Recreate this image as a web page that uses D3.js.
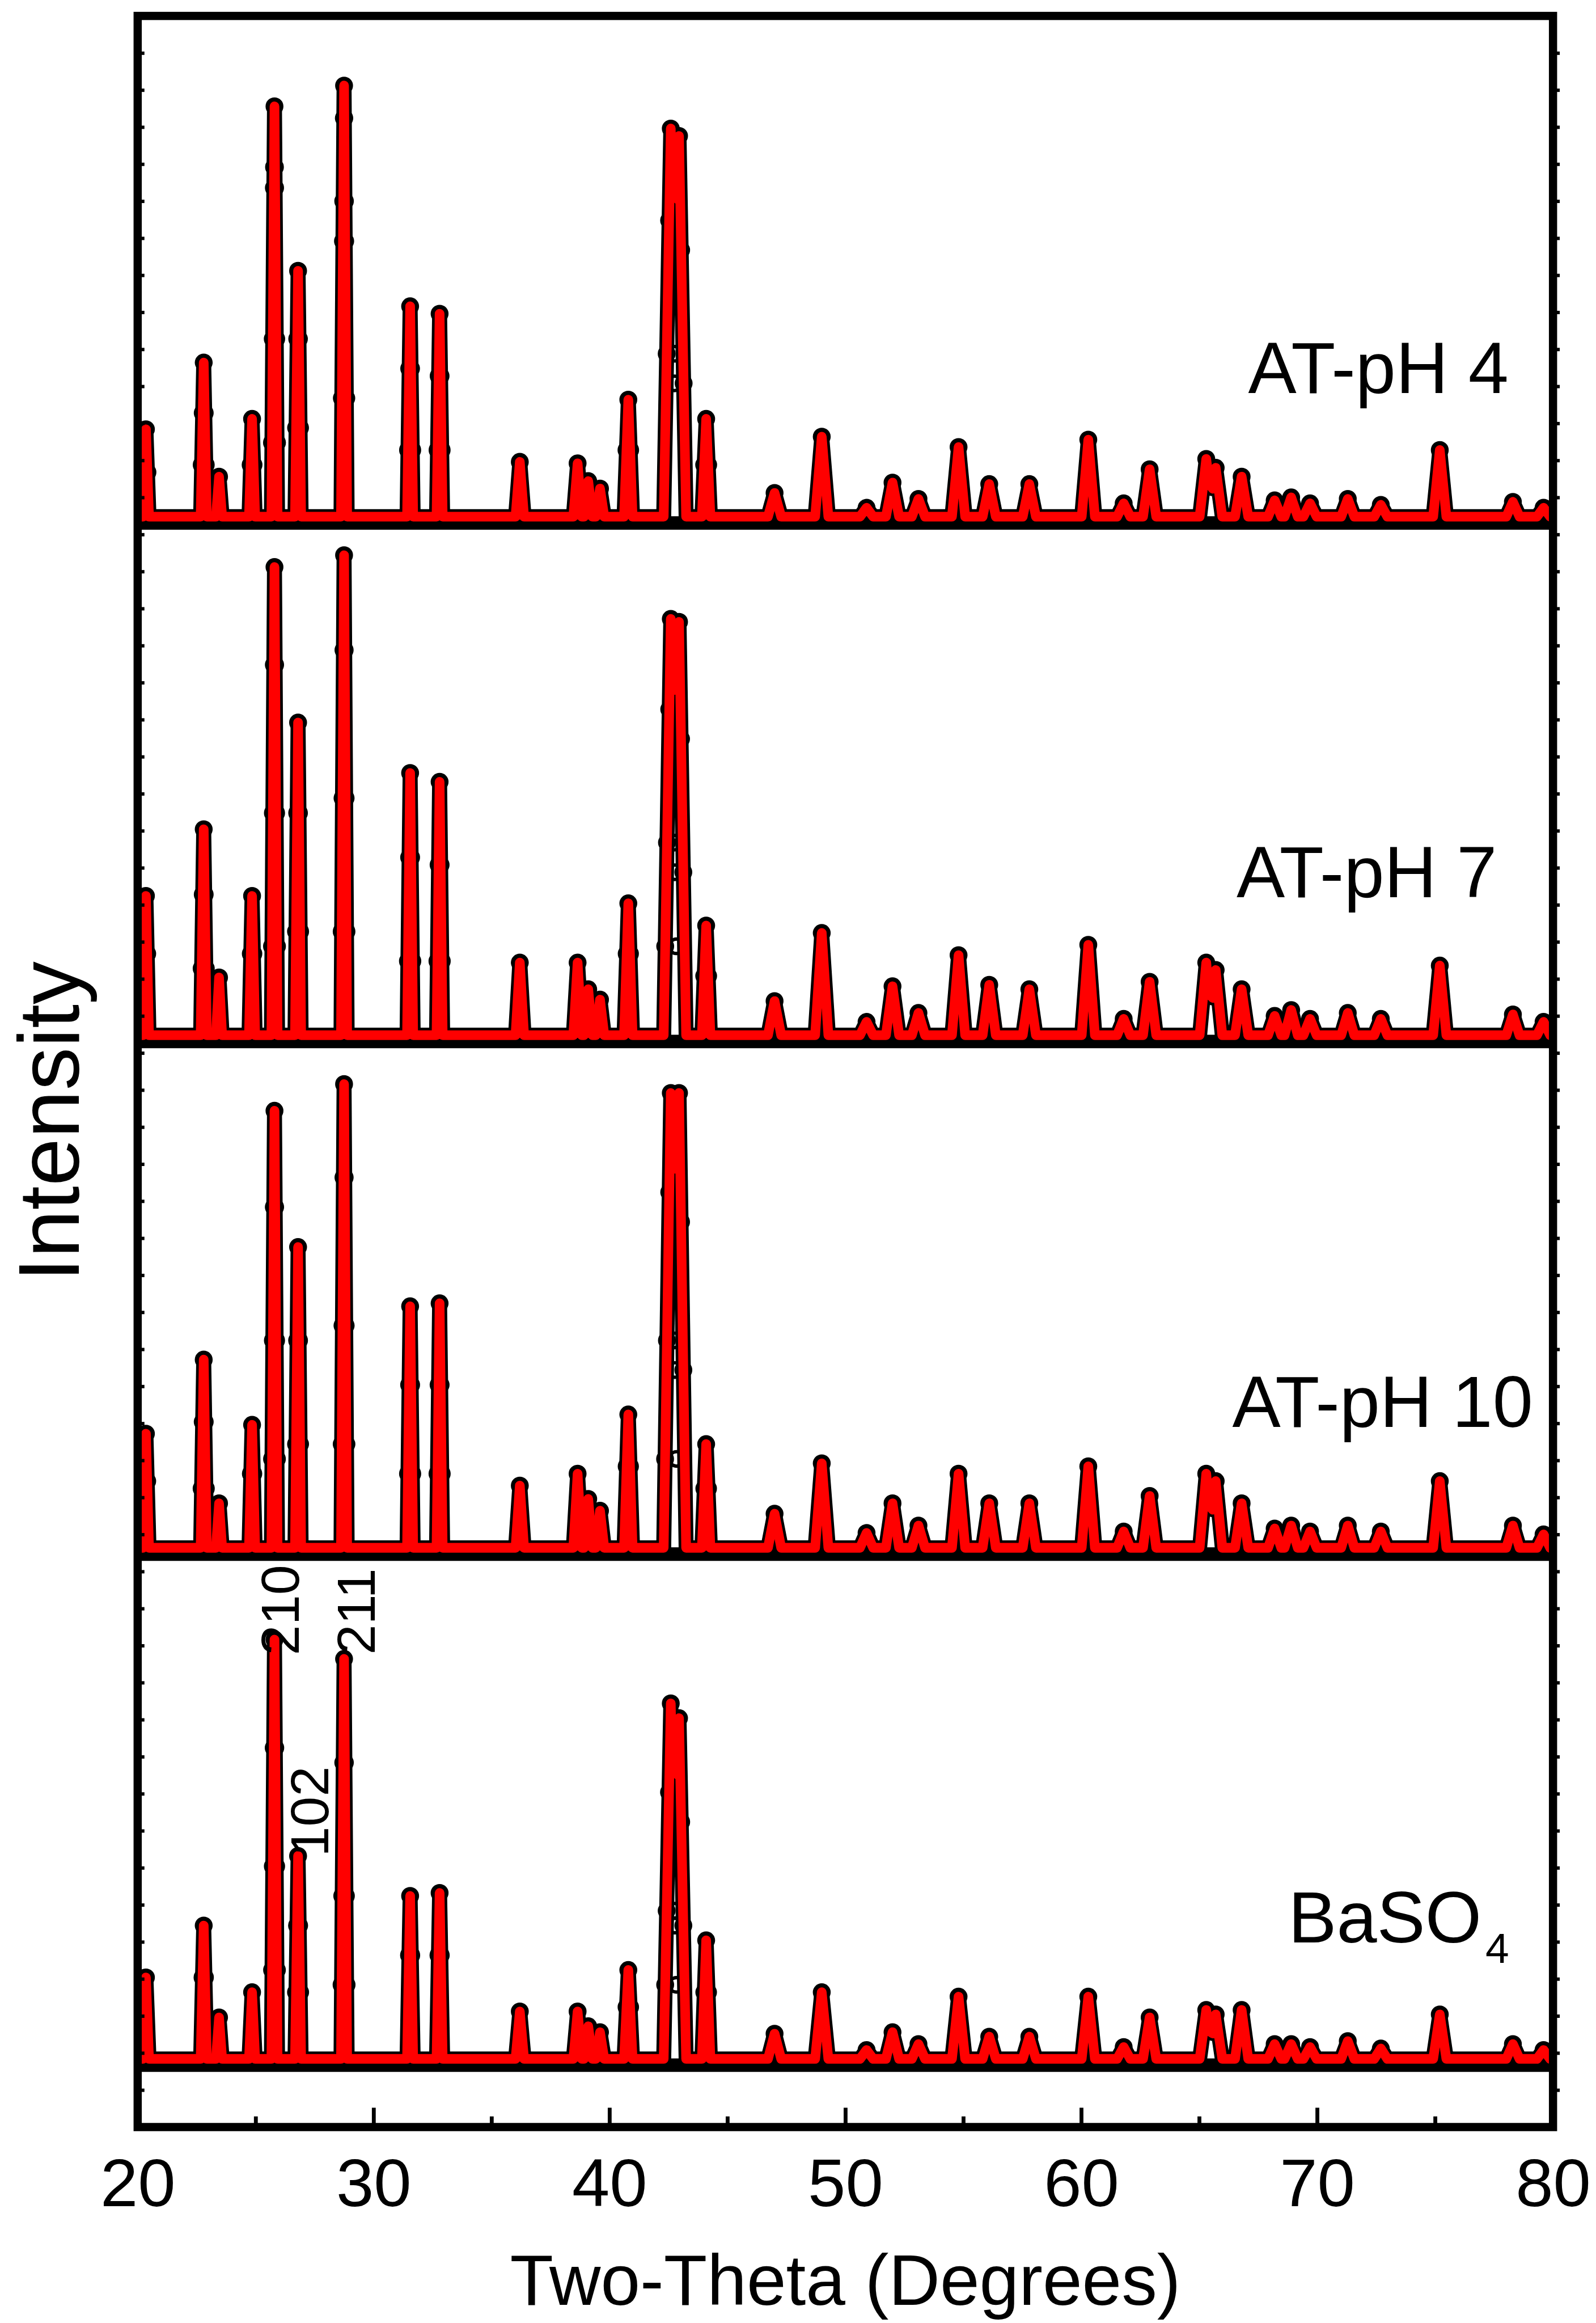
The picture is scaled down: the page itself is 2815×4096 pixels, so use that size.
<!DOCTYPE html>
<html>
<head>
<meta charset="utf-8">
<script src="https://cdn.jsdelivr.net/npm/d3@7"></script>
<style>
html,body{margin:0;padding:0;background:#ffffff;}
svg{display:block;}
</style>
</head>
<body>
<script>
// ---------------- DATA ----------------
const xTickValues = [20, 30, 40, 50, 60, 70, 80];
const xMinorTickValues = [25, 35, 45, 55, 65, 75];
const xTitle = "Two-Theta (Degrees)";
const yTitle = "Intensity";
const sampleNames = ["AT-pH 4", "AT-pH 7", "AT-pH 10", "BaSO"];
// baseline level of each stacked pattern (arbitrary intensity units)
const baselineLevels = [1087, 737, 391, 46];
// reflection positions (2θ, degrees)
const peakPositions = [20.35, 22.8, 23.45, 24.85, 25.8, 26.8, 28.75, 31.55, 32.8,
  36.2, 38.65, 39.1, 39.6, 40.8, 42.6, 42.95, 44.1,
  47.0, 49.0, 50.9, 52.0, 53.1, 54.8, 56.1, 57.8, 60.3, 61.8, 62.9, 65.3, 65.7,
  66.8, 68.2, 68.9, 69.7, 71.3, 72.7, 75.2, 78.3, 79.6];
// half width of each reflection at its foot (degrees)
const peakWidths = [0.13, 0.13, 0.13, 0.13, 0.13, 0.13, 0.13, 0.13, 0.13,
  0.18, 0.18, 0.18, 0.18, 0.18, 0.3, 0.3, 0.18,
  0.28, 0.28, 0.28, 0.28, 0.28, 0.28, 0.28, 0.28, 0.28, 0.28, 0.28, 0.28, 0.28,
  0.28, 0.28, 0.28, 0.28, 0.28, 0.28, 0.28, 0.28, 0.28];
// peak heights above baseline, per sample
const heightsPH4 = [59, 104, 27, 66, 277, 166, 291, 142, 137, 37, 36, 24, 19, 79, 262, 257, 66,
  16, 54, 6, 23, 12, 47, 22, 22, 52, 9, 32, 39, 33, 27, 11, 13, 9, 12, 8, 45, 10, 6];
const heightsPH7 = [94, 139, 39, 94, 316, 211, 324, 177, 171, 49, 49, 31, 24, 89, 281, 279, 74,
  23, 69, 9, 33, 15, 54, 34, 31, 61, 11, 36, 49, 44, 31, 13, 17, 11, 15, 11, 47, 14, 9];
const heightsPH10 = [77, 127, 30, 83, 295, 203, 313, 163, 165, 42, 50, 33, 25, 90, 307, 307, 70,
  23, 57, 10, 30, 15, 50, 30, 30, 55, 11, 35, 50, 45, 30, 13, 15, 11, 15, 11, 45, 15, 9];
const heightsBaSO4 = [55, 90, 28, 45, 283, 137, 270, 110, 112, 32, 32, 22, 18, 60, 240, 230, 80,
  17, 45, 6, 18, 10, 42, 15, 15, 42, 8, 28, 33, 30, 33, 10, 10, 8, 12, 7, 30, 10, 6];
// observed points on the flanks of the strong reflections: [2θ of reflection, height]
const flanksPH4 = [[20.35, 30], [22.8, 70], [22.8, 35], [24.85, 35], [25.8, 236], [25.8, 222], [25.8, 120], [25.8, 50],
  [26.8, 120], [26.8, 60], [28.75, 269], [28.75, 213], [28.75, 186], [28.75, 80], [31.55, 100], [31.55, 45],
  [32.8, 95], [32.8, 45], [40.8, 45], [42.6, 200], [42.6, 110], [42.95, 180], [42.95, 90], [44.1, 35]];
const flanksPH7 = [[20.35, 55], [22.8, 95], [22.8, 45], [24.85, 55], [25.8, 250], [25.8, 150], [25.8, 60],
  [26.8, 150], [26.8, 70], [28.75, 260], [28.75, 160], [28.75, 70], [31.55, 120], [31.55, 50],
  [32.8, 115], [32.8, 50], [40.8, 55], [42.6, 220], [42.6, 130], [42.6, 60], [42.95, 200], [42.95, 110], [44.1, 40]];
const flanksPH10 = [[20.35, 45], [22.8, 85], [22.8, 40], [24.85, 50], [25.8, 230], [25.8, 140], [25.8, 60],
  [26.8, 140], [26.8, 70], [28.75, 250], [28.75, 150], [28.75, 70], [31.55, 110], [31.55, 50],
  [32.8, 110], [32.8, 50], [40.8, 55], [42.6, 240], [42.6, 140], [42.6, 60], [42.95, 220], [42.95, 120], [44.1, 40]];
const flanksBaSO4 = [[22.8, 55], [25.8, 210], [25.8, 130], [25.8, 60], [26.8, 90], [26.8, 45],
  [28.75, 200], [28.75, 110], [28.75, 50], [31.55, 70], [32.8, 70], [40.8, 35],
  [42.6, 180], [42.6, 100], [42.6, 50], [42.95, 160], [42.95, 90], [44.1, 45]];
// Miller index annotations on the BaSO4 pattern
const millerLabels = ["210", "211", "102"];
const millerPositions = [25.8, 28.75, 26.8];

// ---------------- LAYOUT ----------------
const K = 2815 / 3304;          // scale from reference pixels to window pixels
const FONT = "'Liberation Sans', Arial, Helvetica, sans-serif";
const plot = {left: 285, right: 3215, top: 33, bottom: 4402};

const svg = d3.select("body").append("svg")
  .attr("width", 2815).attr("height", 4096);
svg.append("rect").attr("width", 2815).attr("height", 4096).attr("fill", "#fff");
const g = svg.append("g").attr("transform", `scale(${K})`);

const x = d3.scaleLinear().domain([20, 80]).range([plot.left, plot.right]);
const y = d3.scaleLinear().domain([0, 1425]).range([plot.bottom, plot.top]);

const defs = g.append("defs");
defs.append("clipPath").attr("id", "plotClip").append("rect")
  .attr("x", plot.left).attr("y", plot.top)
  .attr("width", plot.right - plot.left).attr("height", plot.bottom - plot.top);

const patterns = [
  {name: sampleNames[0], base: baselineLevels[0], heights: heightsPH4, flanks: flanksPH4},
  {name: sampleNames[1], base: baselineLevels[1], heights: heightsPH7, flanks: flanksPH7},
  {name: sampleNames[2], base: baselineLevels[2], heights: heightsPH10, flanks: flanksPH10},
  {name: sampleNames[3], base: baselineLevels[3], heights: heightsBaSO4, flanks: flanksBaSO4}
];

// piecewise-linear profile through the reflection table
function profile(heights, base) {
  const set = new Set([20, 80]);
  peakPositions.forEach((p, i) => {
    const w = peakWidths[i];
    set.add(+(p - w).toFixed(4)); set.add(p); set.add(+(p + w).toFixed(4));
  });
  const xs = [...set].filter(v => v >= 20 && v <= 80).sort((a, b) => a - b);
  return xs.map(t => [t, base + d3.sum(peakPositions, (p, i) =>
    heights[i] * Math.max(0, 1 - Math.abs(t - p) / peakWidths[i]))]);
}

const line = d3.line().x(d => x(d[0])).y(d => y(d[1]));
const plotG = g.append("g").attr("clip-path", "url(#plotClip)");

patterns.forEach((pat, k) => {
  const pts = profile(pat.heights, pat.base);
  // dense observed data along the baseline (black band under the fit)
  plotG.append("path").datum([[20, pat.base], [80, pat.base]])
    .attr("d", line).attr("transform", "translate(0,13)")
    .attr("fill", "none").attr("stroke", "#000").attr("stroke-width", 28);
  // outline of observed data along the whole pattern
  plotG.append("path").datum(pts)
    .attr("d", line)
    .attr("fill", "none").attr("stroke", "#000").attr("stroke-width", 31)
    .attr("stroke-linejoin", "round");

  // observed points: peak tops and flank points
  const obs = peakPositions.map((p, i) => [p, pat.base + pat.heights[i]]);
  pat.flanks.forEach(([p, h]) => {
    const i = peakPositions.indexOf(p);
    const dx = peakWidths[i] * (1 - h / pat.heights[i]);
    obs.push([p - dx, pat.base + h]);
    obs.push([p + dx, pat.base + h]);
  });
  plotG.append("g").selectAll("circle").data(obs).join("circle")
    .attr("cx", d => x(d[0])).attr("cy", d => y(d[1]))
    .attr("r", 15).attr("fill", "none")
    .attr("stroke", "#000").attr("stroke-width", 7);

  // fitted line
  plotG.append("path").datum(pts)
    .attr("d", line)
    .attr("fill", "none").attr("stroke", "#ff0000").attr("stroke-width", 20)
    .attr("stroke-linejoin", "round").attr("stroke-linecap", "round");
});

// ---------------- AXES ----------------
const xAxis = d3.axisBottom(x).tickValues(xTickValues)
  .tickSizeInner(-40).tickSizeOuter(0).tickPadding(64).tickFormat(d3.format("d"));
const xAxisG = g.append("g").attr("transform", `translate(0,${plot.bottom})`).call(xAxis);
xAxisG.select(".domain").remove();
xAxisG.selectAll(".tick line").attr("stroke", "#000").attr("stroke-width", 8);
xAxisG.selectAll(".tick text").attr("font-family", FONT).attr("font-size", 140).attr("fill", "#000");

const xMinor = d3.axisBottom(x).tickValues(xMinorTickValues)
  .tickSizeInner(-22).tickSizeOuter(0).tickFormat(() => "");
const xMinorG = g.append("g").attr("transform", `translate(0,${plot.bottom})`).call(xMinor);
xMinorG.select(".domain").remove();
xMinorG.selectAll(".tick line").attr("stroke", "#000").attr("stroke-width", 8);

const yTickValues = d3.range(25, 1425, 25);
const yLeft = d3.axisLeft(y).tickValues(yTickValues).tickSizeInner(-14).tickSizeOuter(0).tickFormat(() => "");
const yLeftG = g.append("g").attr("transform", `translate(${plot.left},0)`).call(yLeft);
yLeftG.select(".domain").remove();
yLeftG.selectAll(".tick line").attr("stroke", "#000").attr("stroke-width", 7);

const yRight = d3.axisRight(y).tickValues(yTickValues).tickSizeInner(14).tickSizeOuter(0).tickFormat(() => "");
const yRightG = g.append("g").attr("transform", `translate(${plot.right},0)`).call(yRight);
yRightG.select(".domain").remove();
yRightG.selectAll(".tick line").attr("stroke", "#000").attr("stroke-width", 7);

// frame
g.append("rect")
  .attr("x", plot.left).attr("y", plot.top)
  .attr("width", plot.right - plot.left).attr("height", plot.bottom - plot.top)
  .attr("fill", "none").attr("stroke", "#000").attr("stroke-width", 17);

// ---------------- TEXT ----------------
g.append("text").attr("x", (plot.left + plot.right) / 2).attr("y", 4770)
  .attr("text-anchor", "middle").attr("font-family", FONT).attr("font-size", 147)
  .attr("fill", "#000").text(xTitle);

g.append("text").attr("transform", "translate(163,2321) rotate(-90)")
  .attr("text-anchor", "middle").attr("font-family", FONT).attr("font-size", 178)
  .attr("fill", "#000").text(yTitle);

const labelSpots = [[2584, 813], [2560, 1857], [2551, 2953], [2667, 4020]];
patterns.forEach((pat, k) => {
  const t = g.append("text").attr("x", labelSpots[k][0]).attr("y", labelSpots[k][1])
    .attr("font-family", FONT).attr("font-size", 150).attr("fill", "#000").text(pat.name);
  if (k === 3) {
    t.append("tspan").attr("dx", 8).attr("dy", 42).attr("font-size", 88).text("4");
  }
});

// Miller indices (rotated)
const millerCenters = [349, 348, 213];   // vertical centre, intensity units
const millerOffsets = [50, 63, 63];      // baseline offset to the right of the reflection, px
millerLabels.forEach((lab, i) => {
  const px = x(millerPositions[i]) + millerOffsets[i];
  const py = y(millerCenters[i]);
  g.append("text").attr("transform", `translate(${px},${py}) rotate(-90)`)
    .attr("text-anchor", "middle").attr("font-family", FONT).attr("font-size", 112)
    .attr("fill", "#000").text(lab);
});
</script>
</body>
</html>
